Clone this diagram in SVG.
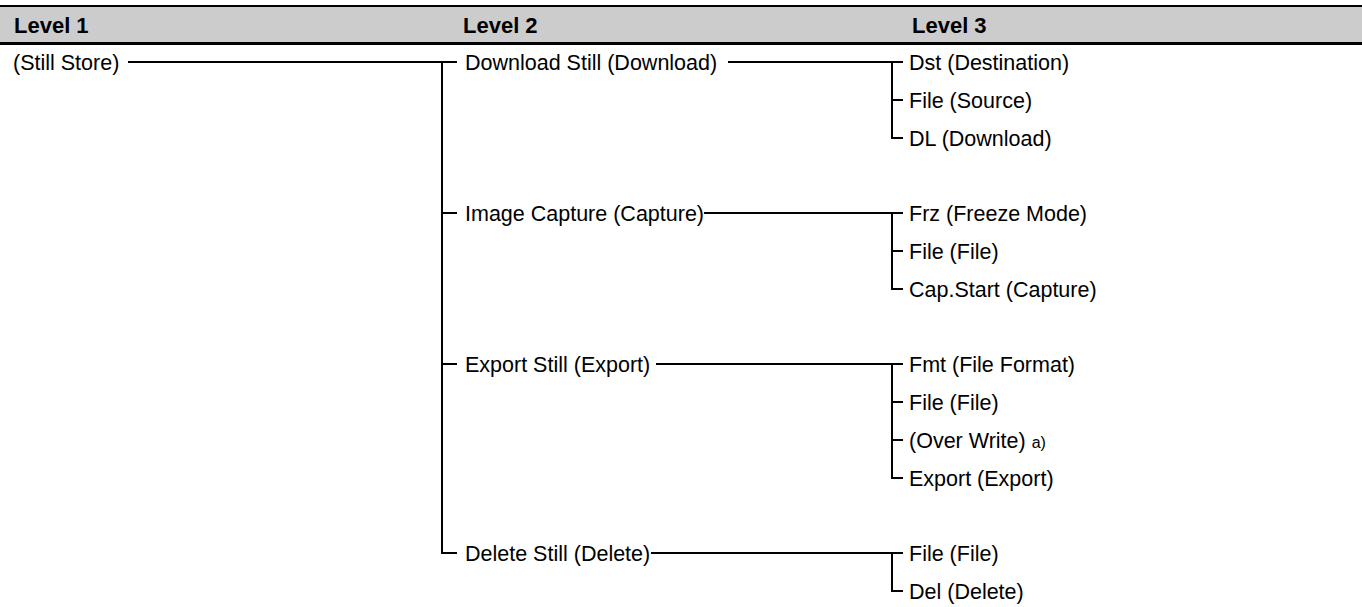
<svg xmlns="http://www.w3.org/2000/svg" width="1362" height="607" viewBox="0 0 1362 607">
<style>
.t{font-family:"Liberation Sans",Arial,sans-serif;font-size:21.5px;fill:#000}
.h{font-family:"Liberation Sans",Arial,sans-serif;font-size:22px;font-weight:bold;fill:#000}
.c{fill:none;stroke:#000;stroke-width:2}
.sup{font-size:16px}
</style>
<rect width="1362" height="607" fill="#fff"/>
<g id="header">
<rect x="0" y="6" width="1362" height="37" fill="#cccccc"/>
<line x1="0" y1="6" x2="1362" y2="6" stroke="#000" stroke-width="2"/>
<line x1="0" y1="43.5" x2="1362" y2="43.5" stroke="#000" stroke-width="3"/>
<text class="h" x="14" y="33">Level 1</text>
<text class="h" x="463" y="33">Level 2</text>
<text class="h" x="912" y="33">Level 3</text>
</g>
<g id="connectors">
<path class="c" d="M128,62 H457 M442,62 V553 H457 M442,213 H457 M442,364 H457"/>
<path class="c" d="M728,62 H903 M892,62 V138 H903 M892,100 H903"/>
<path class="c" d="M704,213 H903 M892,213 V289 H903 M892,251 H903"/>
<path class="c" d="M656,364 H903 M892,364 V478 H903 M892,402 H903 M892,440 H903"/>
<path class="c" d="M651,553 H903 M892,553 V591 H903"/>
</g>
<g id="n-still-store"><text class="t" x="13" y="69.5">(Still Store)</text></g>
<g id="n-download-still"><text class="t" x="465" y="69.5">Download Still (Download)</text></g>
<g id="n-dst"><text class="t" x="909" y="69.5">Dst (Destination)</text></g>
<g id="n-file-source"><text class="t" x="909" y="107.5">File (Source)</text></g>
<g id="n-dl"><text class="t" x="909" y="145.5">DL (Download)</text></g>
<g id="n-image-capture"><text class="t" x="465" y="220.5">Image Capture (Capture)</text></g>
<g id="n-frz"><text class="t" x="909" y="220.5">Frz (Freeze Mode)</text></g>
<g id="n-file-file-1"><text class="t" x="909" y="258.5">File (File)</text></g>
<g id="n-cap-start"><text class="t" x="909" y="296.5">Cap.Start (Capture)</text></g>
<g id="n-export-still"><text class="t" x="465" y="371.5">Export Still (Export)</text></g>
<g id="n-fmt"><text class="t" x="909" y="371.5">Fmt (File Format)</text></g>
<g id="n-file-file-2"><text class="t" x="909" y="409.5">File (File)</text></g>
<g id="n-over-write"><text class="t" x="909" y="447.5">(Over Write) <tspan class="sup">a)</tspan></text></g>
<g id="n-export"><text class="t" x="909" y="485.5">Export (Export)</text></g>
<g id="n-delete-still"><text class="t" x="465" y="560.5">Delete Still (Delete)</text></g>
<g id="n-file-file-3"><text class="t" x="909" y="560.5">File (File)</text></g>
<g id="n-del"><text class="t" x="909" y="598.5">Del (Delete)</text></g>
</svg>
